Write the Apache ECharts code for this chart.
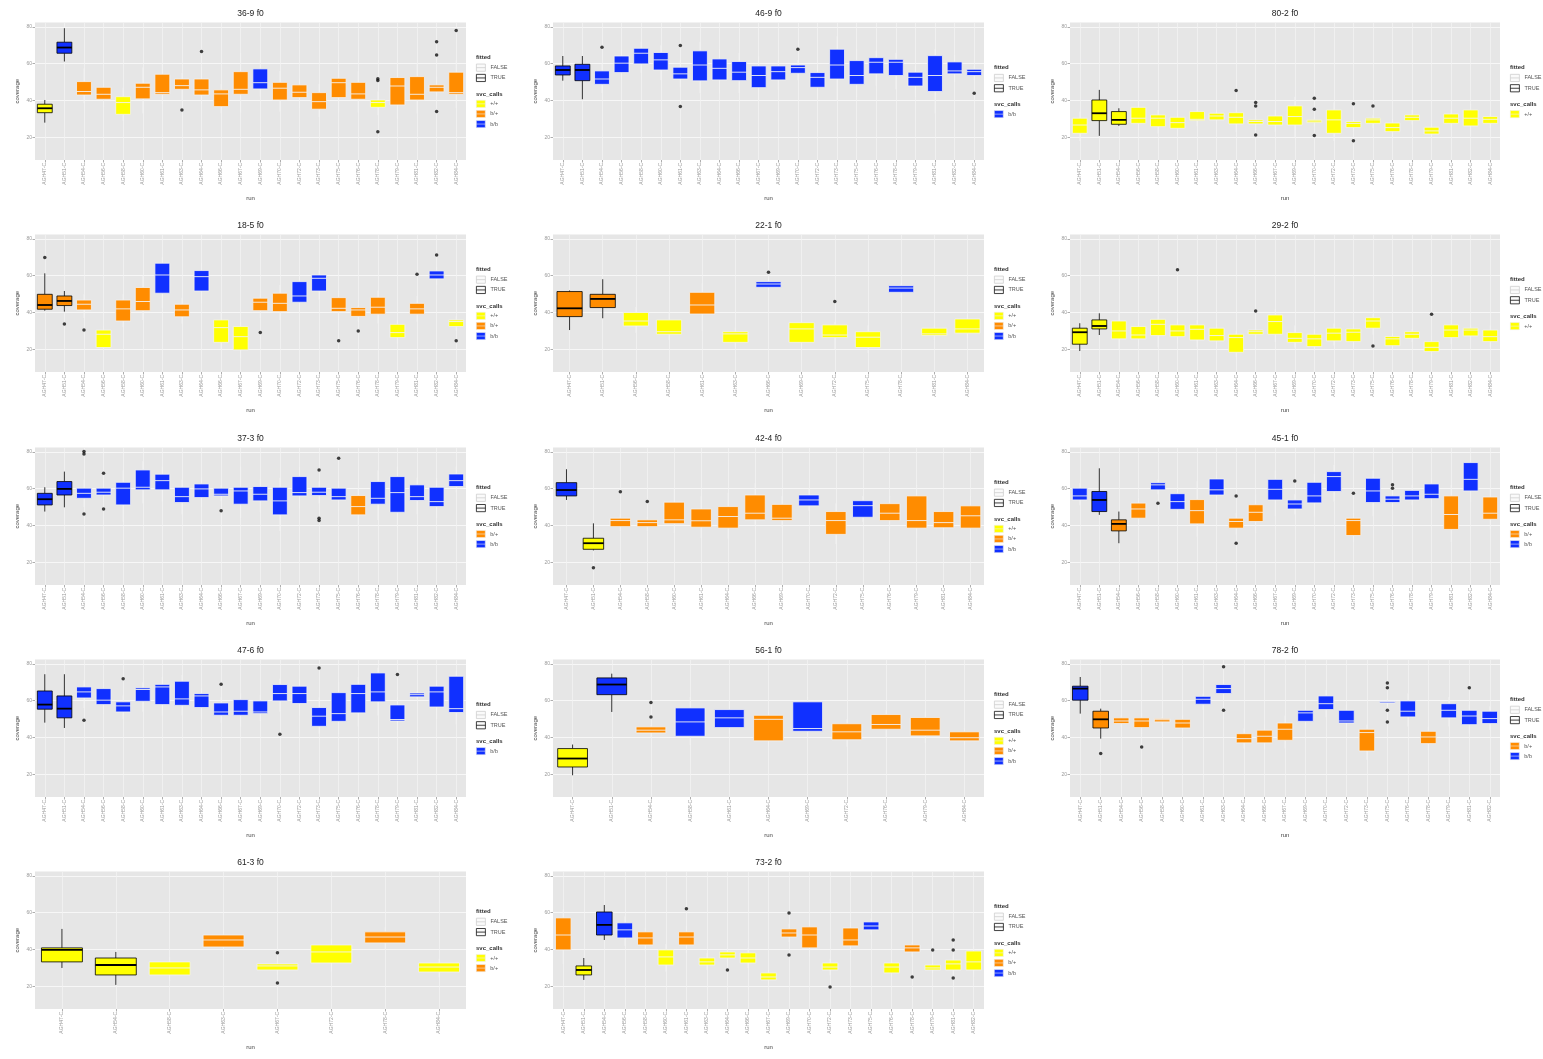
<!DOCTYPE html>
<html><head><meta charset="utf-8">
<script src="https://cdn.jsdelivr.net/npm/echarts@6/dist/echarts.min.js"></script>
<style>html,body{margin:0;padding:0;background:#fff}#c{width:1543px;height:1059px}</style>
</head><body><div id="c"></div>
<script>
// ---------- data ----------
const titles = ['36-9 f0','46-9 f0','80-2 f0','18-5 f0','22-1 f0','29-2 f0','37-3 f0','42-4 f0','45-1 f0','47-6 f0','56-1 f0','78-2 f0','61-3 f0','73-2 f0'];
const yTicks = [20, 40, 60, 80];

const runs22 = ['AGH47-C','AGH51-C','AGH54-C','AGH56-C','AGH58-C','AGH60-C','AGH61-C','AGH63-C','AGH64-C','AGH66-C','AGH67-C','AGH69-C','AGH70-C','AGH72-C','AGH73-C','AGH75-C','AGH76-C','AGH78-C','AGH79-C','AGH81-C','AGH82-C','AGH84-C'];
const runs21 = ['AGH47-C','AGH51-C','AGH54-C','AGH56-C','AGH58-C','AGH60-C','AGH61-C','AGH63-C','AGH64-C','AGH66-C','AGH67-C','AGH69-C','AGH70-C','AGH72-C','AGH73-C','AGH75-C','AGH76-C','AGH78-C','AGH79-C','AGH81-C','AGH82-C'];
const runs16 = ['AGH47-C','AGH51-C','AGH54-C','AGH58-C','AGH60-C','AGH61-C','AGH64-C','AGH66-C','AGH69-C','AGH70-C','AGH72-C','AGH75-C','AGH76-C','AGH79-C','AGH81-C','AGH84-C'];
const runs13 = ['AGH47-C','AGH51-C','AGH56-C','AGH58-C','AGH61-C','AGH63-C','AGH66-C','AGH69-C','AGH72-C','AGH75-C','AGH78-C','AGH81-C','AGH84-C'];
const runs11 = ['AGH47-C','AGH51-C','AGH54-C','AGH58-C','AGH61-C','AGH64-C','AGH69-C','AGH72-C','AGH76-C','AGH79-C','AGH84-C'];
const runs8  = ['AGH47-C','AGH54-C','AGH58-C','AGH63-C','AGH67-C','AGH72-C','AGH78-C','AGH84-C'];

// each box: [lower whisker, Q1, median, Q3, upper whisker]
const stats1 = [[28.0,33.4,35.8,38.0,40.3],[61.2,65.7,68.8,71.7,79.3],[38.5,43.0,44.9,50.3,57.5],[36.5,40.7,43.4,47.2,51.0],[29.0,32.5,38.9,42.1,47.0],[33.0,40.9,47.2,49.4,58.0],[38.0,43.4,44.3,54.3,60.0],[40.0,46.1,48.1,51.7,55.0],[38.0,43.0,45.8,51.7,58.0],[33.0,36.7,43.6,45.8,49.0],[33.5,43.4,46.1,55.7,66.0],[42.0,46.3,49.7,57.2,62.0],[34.0,40.3,46.7,49.9,56.0],[36.0,41.6,44.5,48.5,52.0],[31.0,35.3,39.4,44.3,49.0],[33.5,41.6,49.7,52.1,58.0],[33.5,40.7,43.6,49.9,56.0],[32.0,36.3,38.9,40.3,45.0],[30.0,37.6,47.9,52.5,60.0],[33.0,40.3,43.4,53.0,60.0],[42.0,44.7,47.2,48.5,53.0],[36.0,43.4,44.3,55.4,62.0]];
const calls1 = ['y','b','o','o','y','o','o','o','o','o','o','b','o','o','o','o','o','y','o','o','o','o'];
const fit1 = [0,1];
const out1 = [[7,34.9],[8,66.6],[17,50.9],[17,51.8],[17,23.1],[20,72.0],[20,64.8],[20,34.0],[21,78.0]];

const stats2 = [[50.8,53.9,56.6,58.8,64.2],[40.7,50.8,56.6,59.7,64.2],[44.0,48.8,51.7,56.1,60.0],[52.0,55.2,60.3,64.2,68.0],[55.0,59.9,65.7,68.4,72.0],[51.0,56.6,62.1,66.1,70.0],[47.0,51.7,54.5,58.1,62.0],[44.0,50.7,59.3,67.0,72.0],[44.0,51.2,57.5,62.6,68.0],[44.0,50.8,55.4,61.2,66.0],[40.0,47.0,53.6,58.8,64.0],[46.0,51.2,55.7,58.8,62.0],[51.0,54.8,57.9,59.3,62.0],[41.0,47.2,52.6,55.2,59.0],[40.0,51.7,59.3,67.9,75.0],[42.0,48.8,53.6,61.7,68.0],[48.0,54.5,60.8,63.3,67.0],[46.0,53.6,60.8,62.4,66.0],[42.0,47.9,52.6,55.4,59.0],[33.0,44.9,53.6,64.4,68.0],[50.0,54.5,56.1,61.0,65.0],[51.0,53.6,55.7,57.0,59.0]];
const calls2 = ['b','b','b','b','b','b','b','b','b','b','b','b','b','b','b','b','b','b','b','b','b','b'];
const fit2 = [0,1];
const out2 = [[2,69.0],[6,69.9],[6,36.7],[12,67.9],[21,44.0]];

const stats3 = [[18.0,22.2,26.7,30.4,34.0],[20.8,29.1,33.1,40.3,45.8],[26.2,27.1,29.5,34.0,35.8],[24.0,27.6,30.4,36.3,40.0],[22.0,25.8,30.4,32.2,35.0],[21.0,24.9,28.0,30.9,33.0],[26.0,29.1,29.8,34.0,40.0],[27.0,29.5,31.6,33.1,35.0],[23.0,27.3,30.9,33.4,38.0],[24.0,27.3,28.6,29.5,32.0],[23.0,26.7,28.6,31.6,35.0],[20.0,26.7,31.3,37.1,42.0],[26.0,28.0,28.9,29.5,31.0],[18.0,22.2,29.5,34.9,39.0],[23.0,25.3,27.6,28.6,30.0],[25.0,27.6,29.5,30.4,32.0],[20.0,23.1,25.3,27.8,30.0],[27.0,29.1,30.9,32.2,35.0],[19.0,21.8,23.5,25.5,27.0],[24.0,27.6,30.4,32.7,35.0],[21.0,26.2,30.4,34.9,38.0],[25.0,27.6,29.8,31.3,33.0]];
const calls3 = ['y','y','y','y','y','y','y','y','y','y','y','y','y','y','y','y','y','y','y','y','y','y'];
const fit3 = [1,2];
const out3 = [[8,45.4],[9,38.9],[9,37.1],[9,21.3],[12,41.2],[12,35.3],[12,21.0],[14,38.2],[14,18.2],[15,37.1]];

const stats4 = [[41.0,41.8,44.1,49.9,61.3],[40.5,43.8,46.3,49.0,51.7],[37.0,41.4,44.5,46.8,50.0],[19.0,21.0,28.2,30.5,33.0],[32.0,35.4,42.0,46.8,50.0],[36.0,41.0,46.0,53.6,60.0],[42.0,50.5,60.4,66.8,70.0],[34.0,37.7,41.4,44.5,48.0],[45.0,51.7,59.5,62.8,67.0],[20.0,23.8,31.8,36.0,40.0],[15.0,19.7,26.9,32.4,35.0],[37.0,41.0,45.6,47.8,50.0],[36.0,40.5,45.0,50.5,55.0],[40.0,45.6,49.0,56.8,60.0],[47.0,51.7,58.6,60.4,63.0],[36.0,40.5,42.3,48.1,52.0],[35.0,37.9,41.4,42.7,44.0],[34.0,39.1,42.9,48.3,52.0],[23.0,26.4,29.1,33.6,36.0],[35.0,39.1,42.0,45.0,49.0],[55.0,58.3,60.4,62.6,65.0],[30.0,32.4,35.1,36.0,38.0]];
const calls4 = ['o','o','o','y','o','o','b','o','b','y','y','o','o','b','b','o','o','o','y','o','b','y'];
const fit4 = [0,1];
const out4 = [[0,69.9],[1,33.8],[2,30.5],[11,29.1],[15,24.7],[16,30.0],[19,60.8],[20,71.3],[21,24.7]];

const stats5 = [[30.5,37.8,42.3,51.4,52.0],[36.9,42.7,47.4,49.9,58.1],[29.0,32.7,35.4,40.0,43.0],[25.0,28.2,29.6,36.0,40.0],[30.0,39.2,44.1,51.0,56.0],[21.0,23.8,28.4,29.6,32.0],[52.0,53.7,55.5,56.8,58.0],[20.0,23.8,31.1,34.5,38.0],[20.0,26.4,27.8,33.3,35.0],[18.0,21.0,26.6,29.6,33.0],[48.0,51.0,53.3,54.6,56.0],[25.0,27.5,28.4,31.5,33.0],[26.0,28.8,31.1,36.5,39.0]];
const calls5 = ['o','o','y','y','o','y','b','y','y','y','b','y','y'];
const fit5 = [0,1];
const out5 = [[6,61.9],[8,46.0]];

const stats6 = [[19.1,22.8,29.3,31.5,34.2],[27.8,31.1,32.7,36.0,39.6],[20.0,25.7,30.0,35.4,40.0],[22.0,25.7,27.8,32.4,35.0],[21.0,27.5,33.6,36.3,40.0],[23.0,26.9,30.0,33.3,37.0],[21.0,25.1,30.9,33.3,36.0],[21.0,24.6,27.5,31.5,34.0],[16.0,18.4,26.4,28.2,30.0],[26.0,28.2,29.6,30.5,36.0],[24.0,28.2,35.1,38.7,42.0],[21.0,23.8,26.0,29.1,33.0],[19.0,21.5,25.7,28.2,31.0],[22.0,24.6,28.8,31.5,34.0],[21.0,24.2,29.3,31.1,34.0],[28.0,31.5,35.4,37.2,39.0],[20.0,22.0,25.7,27.0,29.0],[24.0,26.0,28.2,29.6,31.0],[16.0,18.8,21.1,24.2,27.0],[23.0,26.4,30.5,33.3,36.0],[25.0,27.3,30.5,31.5,33.0],[21.0,24.2,26.9,30.5,33.0]];
const calls6 = ['y','y','y','y','y','y','y','y','y','y','y','y','y','y','y','y','y','y','y','y','y','y'];
const fit6 = [0,1];
const out6 = [[5,63.2],[9,40.9],[15,21.8],[18,39.1]];

const stats7 = [[47.6,51.2,54.3,57.5,60.8],[49.9,56.6,59.9,63.9,69.3],[50.0,54.8,57.5,60.3,65.0],[53.0,56.6,58.1,60.3,64.0],[42.0,51.2,60.3,63.5,70.0],[52.0,59.4,60.8,70.2,75.0],[53.0,59.4,64.4,67.9,72.0],[46.0,52.5,55.7,60.8,65.0],[50.0,55.2,59.9,62.6,66.0],[53.0,56.1,57.0,60.3,62.0],[44.0,51.6,58.8,60.8,72.0],[47.0,53.4,57.0,61.2,65.0],[37.0,45.8,53.4,60.8,66.0],[49.0,56.1,57.9,66.6,72.0],[52.0,56.3,58.1,60.8,64.0],[48.0,53.9,55.7,60.3,64.0],[40.0,45.8,50.3,56.3,60.0],[43.0,51.6,54.8,63.9,70.0],[39.0,47.2,57.9,66.6,72.0],[46.0,53.6,55.7,62.1,66.0],[44.0,50.3,53.0,60.8,66.0],[58.0,61.2,64.4,68.0,72.0]];
const calls7 = ['b','b','b','b','b','b','b','b','b','b','b','b','b','b','b','b','o','b','b','b','b','b'];
const fit7 = [0,1];
const out7 = [[2,80.2],[2,78.9],[2,46.3],[3,68.4],[3,49.0],[9,48.1],[14,70.2],[14,43.9],[14,42.7],[15,76.6]];

const stats8 = [[53.9,56.1,59.3,63.3,70.6],[26.5,27.1,30.4,33.1,41.2],[37.0,39.4,42.7,44.0,46.0],[37.0,39.4,41.6,43.1,45.0],[36.0,41.0,43.1,52.7,60.0],[33.0,39.1,42.6,49.0,56.0],[33.0,38.6,44.9,50.3,58.0],[40.0,43.1,46.7,56.6,63.0],[39.0,42.7,44.0,51.5,56.0],[48.0,50.7,53.9,56.6,60.0],[30.0,35.2,42.7,47.6,52.0],[42.0,44.5,50.8,53.5,56.0],[38.0,42.7,46.7,51.9,56.0],[33.0,38.6,42.7,56.1,62.0],[34.0,38.8,41.6,47.6,52.0],[33.0,38.6,45.3,50.7,56.0]];
const calls8 = ['b','y','o','o','o','o','o','o','o','b','o','b','o','o','o','o'];
const fit8 = [0,1];
const out8 = [[1,17.1],[2,58.4],[3,53.0]];

const stats9 = [[51.0,53.9,56.1,60.3,63.0],[45.8,47.6,53.9,58.5,71.1],[30.4,37.1,40.9,43.1,47.6],[40.0,44.0,49.0,52.2,55.0],[57.0,59.4,62.1,63.3,65.0],[44.0,48.8,53.0,57.3,61.0],[34.0,40.9,48.1,54.1,64.0],[52.0,56.6,59.4,65.3,69.0],[35.0,38.6,42.2,44.0,47.0],[36.0,42.2,47.2,51.3,57.0],[45.0,53.9,59.7,65.1,70.0],[46.0,49.0,51.7,53.9,57.0],[45.0,52.3,56.1,63.5,68.0],[53.0,58.5,66.6,69.3,73.0],[31.0,34.6,42.7,44.0,47.0],[45.0,52.5,58.8,65.7,70.0],[50.0,52.5,54.3,56.1,58.0],[51.0,53.9,56.1,59.1,62.0],[50.0,54.6,57.0,62.6,66.0],[31.0,37.9,46.0,56.1,62.0],[53.0,58.8,65.1,74.2,78.0],[38.0,43.4,46.7,55.5,60.0]];
const calls9 = ['b','b','o','o','b','b','o','b','o','o','b','b','b','b','o','b','b','b','b','o','b','o'];
const fit9 = [1,2];
const out9 = [[4,52.1],[8,56.1],[8,30.4],[11,64.2],[14,57.5],[16,62.1],[16,60.3]];

const stats10 = [[48.1,55.4,57.9,65.3,74.4],[45.2,50.7,55.7,62.6,74.4],[56.0,61.5,64.8,67.5,71.0],[53.0,57.9,60.3,66.6,70.0],[50.0,53.9,57.2,59.4,63.0],[54.0,59.7,66.1,67.0,70.0],[52.0,57.9,67.5,68.9,73.0],[52.0,57.5,61.0,70.6,74.0],[50.0,56.3,62.6,63.9,67.0],[48.0,52.1,53.9,58.8,62.0],[46.0,52.1,54.3,60.6,64.0],[49.0,53.0,53.9,59.9,63.0],[54.0,59.9,63.9,68.8,72.0],[52.0,58.5,63.9,67.9,72.0],[42.0,46.1,51.6,56.3,62.0],[42.0,48.8,53.0,64.4,70.0],[46.0,53.4,63.9,68.9,73.0],[52.0,59.4,64.8,75.1,78.0],[44.0,49.0,49.8,57.7,62.0],[61.0,62.1,63.3,64.2,65.0],[50.0,56.6,64.8,67.9,71.0],[47.0,53.6,55.7,73.3,76.0]];
const calls10 = ['b','b','b','b','b','b','b','b','b','b','b','b','b','b','b','b','b','b','b','b','b','b'];
const fit10 = [0,1];
const out10 = [[2,49.4],[4,72.0],[9,69.0],[12,41.8],[14,77.8],[18,74.2]];

const stats11 = [[19.5,24.0,28.6,34.0,36.2],[53.9,63.3,68.8,72.4,74.7],[40.0,42.5,44.0,45.8,47.0],[36.0,40.7,48.5,56.1,62.0],[42.0,45.4,50.7,55.2,60.0],[35.0,38.2,49.9,52.1,54.0],[40.0,43.4,44.9,59.4,62.0],[35.0,38.8,43.1,47.5,50.0],[40.0,44.5,47.1,52.5,55.0],[37.0,40.9,44.0,50.9,54.0],[36.0,38.2,39.9,43.1,45.0]];
const calls11 = ['y','b','o','b','b','o','b','o','o','o','o'];
const fit11 = [0,1];
const out11 = [[2,59.0],[2,51.2]];

const stats12 = [[53.0,60.3,66.6,67.9,72.9],[39.4,45.2,49.9,54.3,55.7],[46.0,47.6,49.0,50.7,52.0],[42.0,45.4,49.0,50.7,53.0],[47.0,48.5,49.7,50.3,51.0],[42.0,45.2,47.9,49.9,52.0],[55.0,58.1,60.8,62.4,64.0],[60.0,63.9,66.6,68.8,72.0],[34.0,37.1,39.4,42.1,45.0],[34.0,37.1,40.7,44.0,47.0],[34.0,38.5,44.5,47.9,52.0],[45.0,48.8,53.4,54.8,57.0],[51.0,55.2,58.4,62.6,66.0],[44.0,47.9,49.0,54.8,58.0],[28.0,32.7,42.7,44.5,47.0],[57.0,58.8,59.4,59.7,61.0],[46.0,51.2,54.3,59.9,64.0],[33.0,36.7,40.3,43.4,46.0],[46.0,50.7,54.8,58.4,62.0],[42.0,47.0,51.7,54.8,58.0],[44.0,47.6,50.3,54.3,57.0]];
const calls12 = ['b','o','o','o','o','o','b','b','o','o','o','b','b','b','o','b','b','o','b','b','b'];
const fit12 = [0,1];
const out12 = [[1,31.3],[3,34.9],[7,78.4],[7,54.8],[15,69.7],[15,67.0],[15,54.8],[15,48.5],[19,67.0]];

const stats13 = [[30.0,33.3,39.8,40.9,51.2],[20.8,26.2,31.6,35.4,38.7],[23.0,26.2,30.0,33.3,36.0],[38.0,41.4,45.2,47.9,51.0],[26.0,28.9,31.1,32.2,34.0],[28.0,32.7,38.7,42.5,46.0],[40.0,43.6,46.8,49.6,52.0],[25.0,27.8,30.5,32.7,35.0]];
const calls13 = ['y','y','y','o','y','y','o','y'];
const fit13 = [0,1];
const out13 = [[4,38.2],[4,21.8]];

const stats14 = [[32.0,39.8,47.9,57.2,62.0],[23.5,26.2,28.9,31.1,35.4],[45.2,47.9,53.4,60.4,64.2],[42.0,46.3,50.7,54.5,58.0],[39.0,42.5,46.3,49.6,52.0],[28.0,31.6,36.0,39.8,43.0],[38.0,42.5,46.8,49.6,53.0],[29.0,31.6,33.3,35.4,38.0],[33.0,35.4,37.1,38.7,41.0],[30.0,32.7,35.4,38.2,41.0],[21.0,23.5,25.1,27.3,29.0],[44.0,46.8,49.0,51.2,54.0],[36.0,40.9,47.9,52.3,56.0],[26.0,28.9,30.5,32.7,35.0],[38.0,42.0,45.2,51.7,55.0],[48.0,50.7,52.8,55.0,57.0],[25.0,27.3,30.5,32.7,35.0],[36.0,38.7,40.9,42.5,44.0],[27.0,28.9,30.0,31.6,33.0],[26.0,28.9,32.2,34.3,37.0],[25.0,28.9,33.3,39.2,42.0]];
const calls14 = ['o','y','b','b','o','y','o','y','y','y','y','o','o','y','o','b','y','o','y','y','y'];
const fit14 = [1,2];
const out14 = [[6,62.1],[8,28.9],[11,59.9],[11,37.1],[13,19.7],[17,25.1],[18,39.8],[19,45.2],[19,39.8],[19,24.6]];

// ---------- styling / layout ----------
const FILL = {y:'#ffff00', o:'#ff8c00', b:'#1030ff'};
const CALL_NAME = {y:'+/+', o:'b/+', b:'b/b'};
const KEY = 'path://M0,0L10,0L10,8L0,8Z M0,4L10,4';

const panels = [
  {runs:runs22, stats:stats1, calls:calls1, fit:fit1, out:out1},
  {runs:runs22, stats:stats2, calls:calls2, fit:fit2, out:out2},
  {runs:runs22, stats:stats3, calls:calls3, fit:fit3, out:out3},
  {runs:runs22, stats:stats4, calls:calls4, fit:fit4, out:out4},
  {runs:runs13, stats:stats5, calls:calls5, fit:fit5, out:out5},
  {runs:runs22, stats:stats6, calls:calls6, fit:fit6, out:out6},
  {runs:runs22, stats:stats7, calls:calls7, fit:fit7, out:out7},
  {runs:runs16, stats:stats8, calls:calls8, fit:fit8, out:out8},
  {runs:runs22, stats:stats9, calls:calls9, fit:fit9, out:out9},
  {runs:runs22, stats:stats10, calls:calls10, fit:fit10, out:out10},
  {runs:runs11, stats:stats11, calls:calls11, fit:fit11, out:out11},
  {runs:runs21, stats:stats12, calls:calls12, fit:fit12, out:out12},
  {runs:runs8,  stats:stats13, calls:calls13, fit:fit13, out:out13},
  {runs:runs21, stats:stats14, calls:calls14, fit:fit14, out:out14}
];

const colLeft = [35, 553, 1070], colW = [431, 431, 430];
const rowTop = [22.5, 234.5, 447.5, 659.5, 871.5], plotH = 137.5;
const Y_MIN = 7.7, Y_MAX = 82.4;

const grid = [], xAxis = [], yAxis = [], series = [], legend = [], title = [];

panels.forEach((p, i) => {
  const r = Math.floor(i / 3), c = i % 3;
  const L = colLeft[c], W = colW[c], T = rowTop[r];
  grid.push({left: L, top: T, width: W, height: plotH, show: true, backgroundColor: '#e6e6e6', borderWidth: 0});
  xAxis.push({
    gridIndex: i, type: 'category', data: p.runs, boundaryGap: true,
    axisLine: {show: false},
    axisTick: {show: true, alignWithLabel: true, length: 2.5, lineStyle: {color: '#999', width: 0.8}},
    axisLabel: {rotate: 90, interval: 0, fontSize: 5, color: '#9a9a9a', margin: 3},
    splitLine: {show: false},
    name: 'run', nameLocation: 'middle', nameGap: 35, nameTextStyle: {fontSize: 6, color: '#444'}
  });
  yAxis.push({
    gridIndex: i, type: 'value', min: Y_MIN, max: Y_MAX,
    axisLine: {show: false},
    axisTick: {show: true, length: 2.5, customValues: yTicks, lineStyle: {color: '#999', width: 0.8}},
    axisLabel: {customValues: yTicks, fontSize: 5, color: '#9a9a9a', margin: 3},
    splitLine: {show: true, lineStyle: {color: '#f7f7f7', width: 1}},
    name: 'coverage', nameLocation: 'middle', nameGap: 15, nameTextStyle: {fontSize: 6, color: '#444'}
  });
  const calls = p.calls, fitSet = p.fit;
  series.push({
    type: 'custom', name: 'box' + i, coordinateSystem: 'cartesian2d', xAxisIndex: i, yAxisIndex: i,
    silent: true, z: 2,
    encode: {x: 0, y: [1, 2, 3, 4, 5]},
    data: p.stats.map((s, k) => [k, s[0], s[1], s[2], s[3], s[4], fitSet.includes(k) ? 1 : 0]),
    renderItem: function (params, api) {
      const k = params.dataIndex;
      const x = api.value(0);
      const lo = api.coord([x, api.value(1)]);
      const q1 = api.coord([x, api.value(2)]);
      const md = api.coord([x, api.value(3)]);
      const q3 = api.coord([x, api.value(4)]);
      const hi = api.coord([x, api.value(5)]);
      const bw = api.size([1, 0])[0] * 0.76;
      const fitted = api.value(6) === 1;
      const stroke = fitted ? '#000' : '#f3f3f3';
      const fill = FILL[calls[k]];
      return {type: 'group', children: [
        {type: 'line', shape: {x1: lo[0], y1: lo[1], x2: q1[0], y2: q1[1]}, style: {stroke: stroke, lineWidth: 0.8}},
        {type: 'line', shape: {x1: q3[0], y1: q3[1], x2: hi[0], y2: hi[1]}, style: {stroke: stroke, lineWidth: 0.8}},
        {type: 'rect', shape: {x: q3[0] - bw / 2, y: q3[1], width: bw, height: q1[1] - q3[1]}, style: {fill: fill, stroke: stroke, lineWidth: 0.8}},
        {type: 'line', shape: {x1: md[0] - bw / 2, y1: md[1], x2: md[0] + bw / 2, y2: md[1]}, style: {stroke: stroke, lineWidth: fitted ? 1.8 : 0.9}}
      ]};
    }
  });
  series.push({
    type: 'scatter', name: 'out' + i, xAxisIndex: i, yAxisIndex: i, silent: true, z: 3,
    symbolSize: 3.5, itemStyle: {color: '#111'}, data: p.out,
    markLine: {
      silent: true, symbol: 'none', z: 1, animation: false,
      label: {show: false}, emphasis: {disabled: true},
      lineStyle: {color: '#f2f2f2', width: 0.8, type: 'solid'},
      data: p.runs.map(rn => ({xAxis: rn}))
    }
  });
  title.push({text: titles[i], left: L + W / 2, textAlign: 'center', top: T - 13, padding: 0,
    textStyle: {fontSize: 8.5, fontWeight: 'normal', color: '#222'}});
  const present = ['y', 'o', 'b'].filter(k => calls.includes(k));
  const n = present.length;
  const pc = T + plotH / 2;
  const c0 = pc - (23 + 5.15 * (n - 1));
  const LX = L + W + 10;
  title.push({text: 'fitted', left: LX, top: c0 - 3.5, padding: 0, textStyle: {fontSize: 6, fontWeight: 'bold', color: '#333'}});
  title.push({text: 'svc_calls', left: LX, top: c0 + 33.5, padding: 0, textStyle: {fontSize: 6, fontWeight: 'bold', color: '#333'}});
  legend.push({
    orient: 'vertical', left: LX, top: c0 + 5.7, padding: 0, itemWidth: 9, itemHeight: 8, itemGap: 2.3,
    selectedMode: false, textStyle: {fontSize: 5.5, color: '#555'},
    data: [
      {name: 'FALSE', icon: KEY, itemStyle: {color: '#fafafa', borderColor: '#cfcfcf', borderWidth: 0.8}},
      {name: 'TRUE', icon: KEY, itemStyle: {color: '#fafafa', borderColor: '#111', borderWidth: 0.8}}
    ]
  });
  legend.push({
    orient: 'vertical', left: LX, top: c0 + 42, padding: 0, itemWidth: 9, itemHeight: 8, itemGap: 2.3,
    selectedMode: false, textStyle: {fontSize: 5.5, color: '#555'},
    data: present.map(k => ({name: CALL_NAME[k], icon: KEY, itemStyle: {color: FILL[k], borderColor: '#eeeeee', borderWidth: 0.6}}))
  });
});

// legend entries need series with these names (no data drawn)
['FALSE', 'TRUE', '+/+', 'b/+', 'b/b'].forEach(nm => series.push({type: 'bar', name: nm, data: [], xAxisIndex: 0, yAxisIndex: 0}));

const chart = echarts.init(document.getElementById('c'), null, {renderer: 'canvas'});
chart.setOption({
  animation: false,
  backgroundColor: '#ffffff',
  textStyle: {fontFamily: 'Liberation Sans, Arial, sans-serif'},
  grid: grid, xAxis: xAxis, yAxis: yAxis, series: series, legend: legend, title: title,
  tooltip: {show: false}
});
</script></body></html>
